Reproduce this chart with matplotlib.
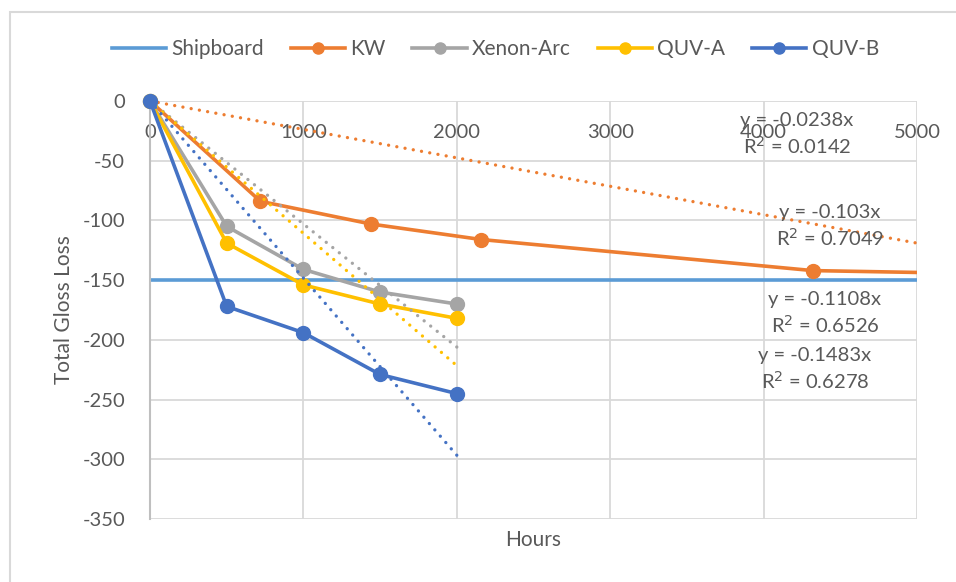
import matplotlib.pyplot as plt
from matplotlib.patches import Rectangle

# exposure hours and total gloss loss per test method
kw_hours = [0, 720, 1440, 2160, 4320, 6500]
kw_loss = [0, -84, -103, -116, -142, -147]
xenon_hours = [0, 500, 1000, 1500, 2000]
xenon_loss = [0, -105, -141, -160, -170]
quva_hours = [0, 500, 1000, 1500, 2000]
quva_loss = [0, -119, -154, -170, -182]
quvb_hours = [0, 500, 1000, 1500, 2000]
quvb_loss = [0, -172, -194, -229, -245]
shipboard_loss = -150

# linear fits through origin: slope, R², fit range end, label position
trend_slopes = [-0.0238, -0.103, -0.1108, -0.1483]
trend_r2 = [0.0142, 0.7049, 0.6526, 0.6278]
trend_end = [6500, 2000, 2000, 2000]
label_pos = [(4218, -28), (4433, -105), (4400, -178), (4335, -225)]

c_ship = "#5B9BD5"
c_kw = "#ED7D31"
c_xe = "#A5A5A5"
c_qa = "#FFC000"
c_qb = "#4472C4"
txt = "#595959"
grid_c = "#D9D9D9"

plt.rcParams["font.family"] = ["Lato", "DejaVu Sans"]
plt.rcParams["axes.unicode_minus"] = False

fig = plt.figure(figsize=(9.56, 5.82), dpi=100)
fig.patches.append(Rectangle((10 / 956, -0.1), 1.0, 1 - 12 / 582 + 0.1,
                             transform=fig.transFigure, fill=False,
                             edgecolor="#D9D9D9", lw=1.5, zorder=0))
ax = fig.add_axes([150 / 956, 1 - 519 / 582, 767 / 956, 418 / 582])

ax.set_xlim(0, 5000)
ax.set_ylim(-350, 0)
ax.set_xticks(range(0, 5001, 1000))
ax.set_yticks(range(-350, 1, 50))
ax.grid(True, color=grid_c, lw=1.3)
ax.set_axisbelow(True)
for s in ["top", "right", "bottom"]:
    ax.spines[s].set_visible(False)
ax.spines["left"].set_color("#BFBFBF")
ax.spines["left"].set_linewidth(1.5)
# category labels sit just under the zero line
ax.xaxis.set_ticks_position("top")
ax.xaxis.set_label_position("bottom")
ax.tick_params(length=0, labelsize=14.5, colors=txt)
ax.tick_params(axis="x", pad=-29)
ax.tick_params(axis="y", pad=18)

lw = 2.6
ms = 10
ax.axhline(shipboard_loss, color=c_ship, lw=lw, label="Shipboard")
ax.plot(kw_hours, kw_loss, color=c_kw, lw=lw, marker="o", ms=ms, label="KW")
ax.plot(xenon_hours, xenon_loss, color=c_xe, lw=lw, marker="o", ms=ms,
        label="Xenon-Arc", clip_on=False)
ax.plot(quva_hours, quva_loss, color=c_qa, lw=lw, marker="o", ms=ms,
        label="QUV-A", clip_on=False)

for slope, r2, x_end, (lx, ly), col in zip(trend_slopes, trend_r2, trend_end,
                                           label_pos, [c_kw, c_xe, c_qa, c_qb]):
    ax.plot([0, x_end], [0, slope * x_end], color=col, lw=2.4,
            linestyle=(0, (0.01, 2.5)), dash_capstyle="round")
    ax.text(lx, ly, f"y = {slope:g}x\nR$^2$ = {r2:.4f}", ha="center", va="center",
            fontsize=14.5, color=txt, linespacing=1.3, clip_on=False)

ax.plot(quvb_hours, quvb_loss, color=c_qb, lw=lw, marker="o", ms=ms,
        label="QUV-B", clip_on=False, zorder=4)

ax.set_xlabel("Hours", fontsize=15, color=txt, labelpad=8)
ax.set_ylabel("Total Gloss Loss", fontsize=15, color=txt, labelpad=6)

fig.legend(loc="center", bbox_to_anchor=(0.518, 1 - 49 / 582), ncol=5,
           frameon=False, fontsize=15, labelcolor=txt, handlelength=2.6,
           columnspacing=1.3, handletextpad=0.25, markerscale=0.8)

fig.savefig("out.png", dpi=100)
